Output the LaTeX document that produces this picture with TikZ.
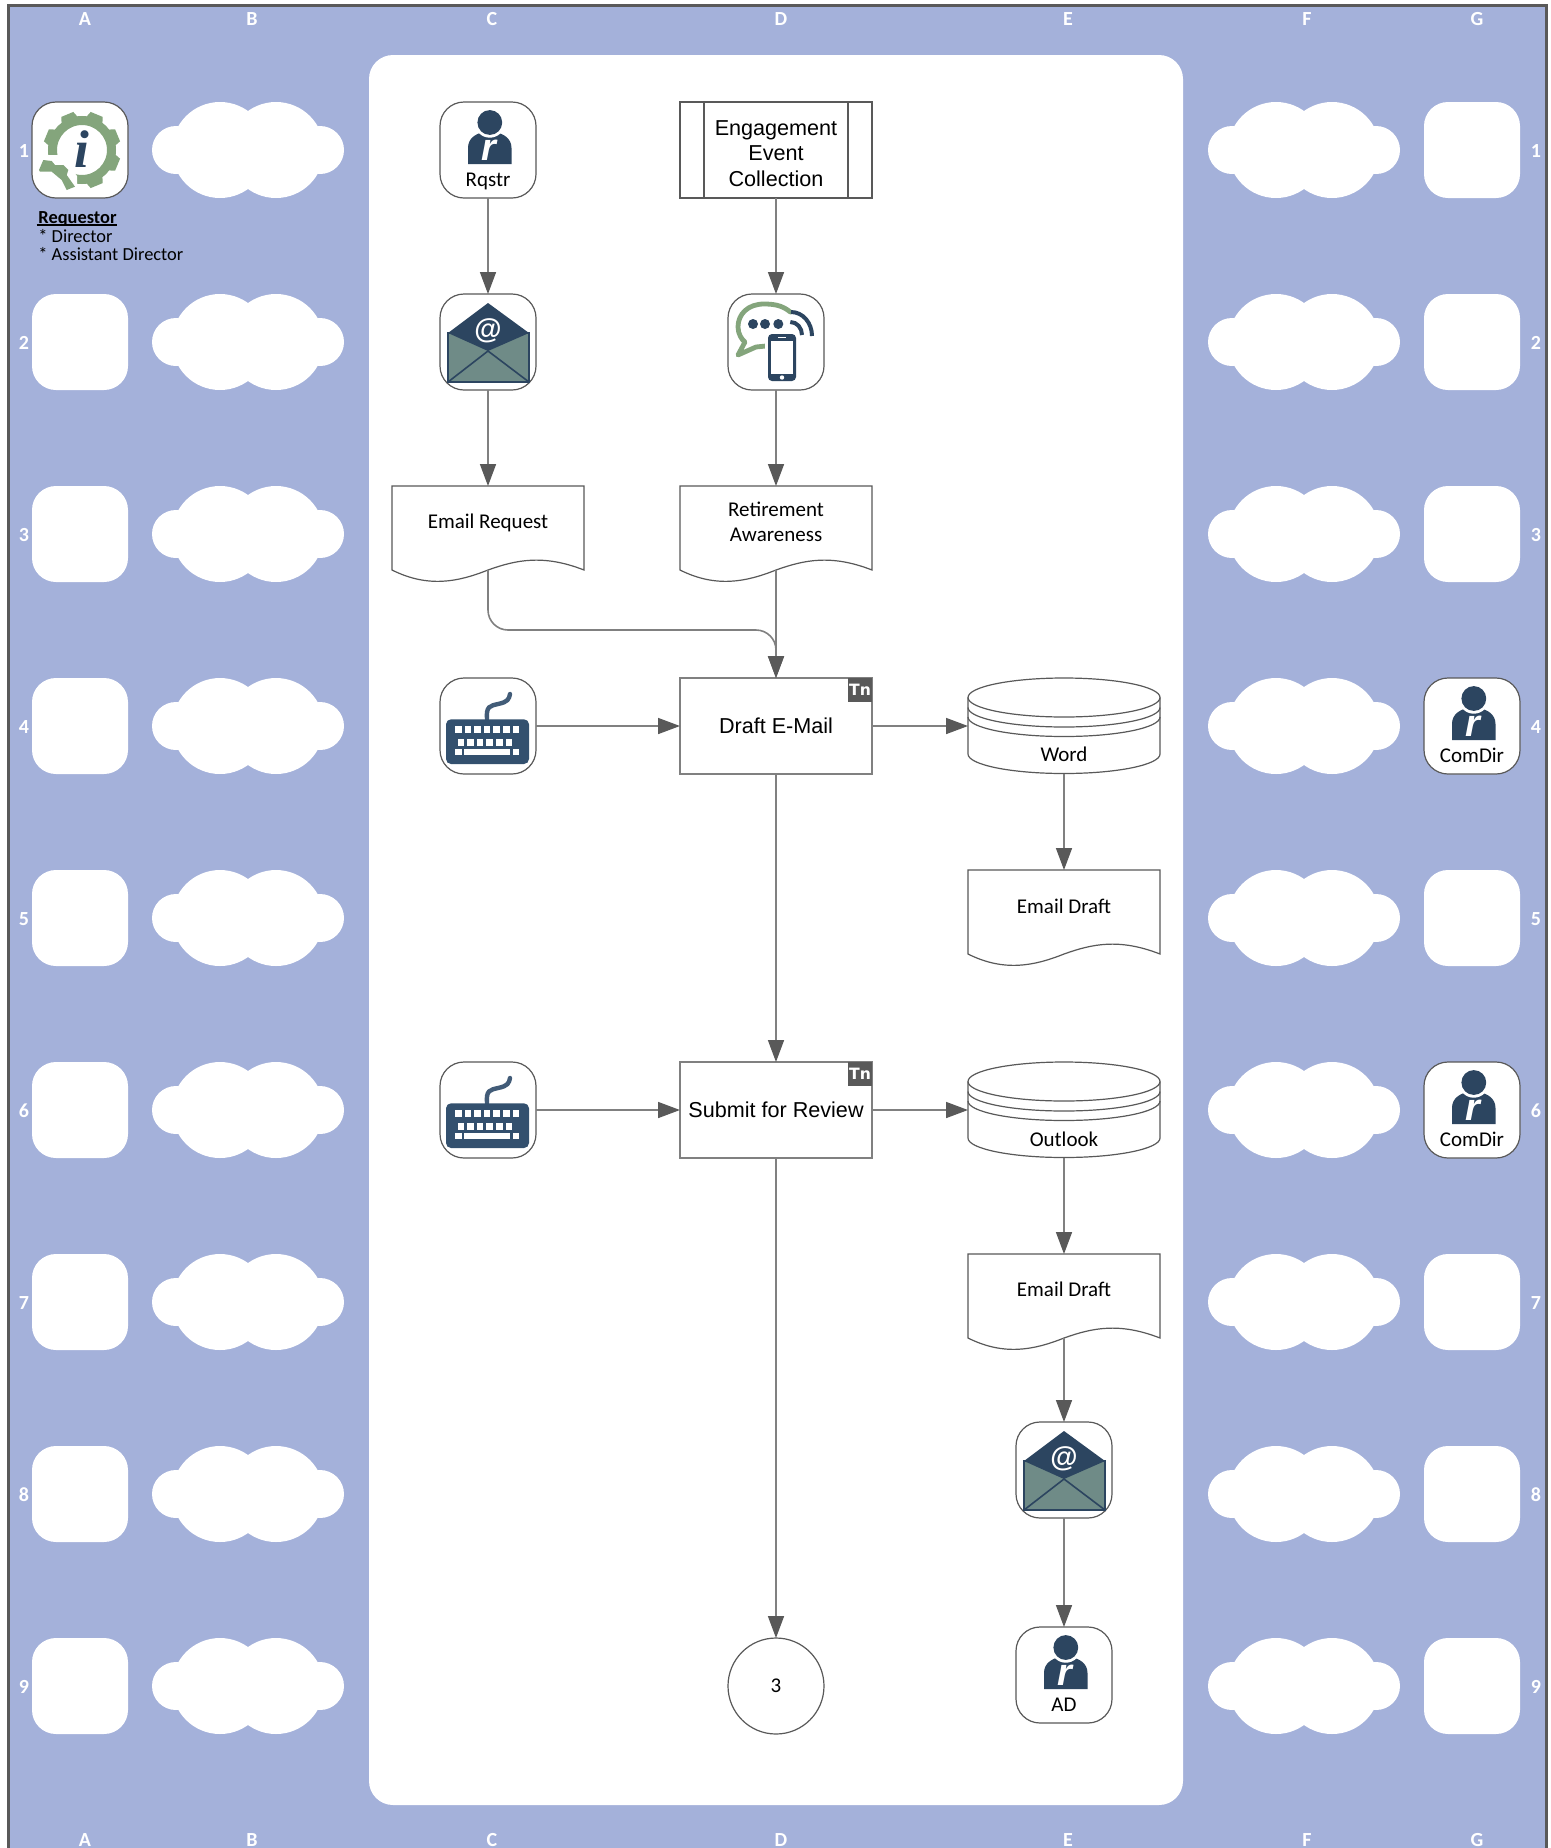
\documentclass[tikz,border=0pt]{standalone}
\usepackage{fontspec}
\setmainfont{Liberation Sans}
\newfontfamily\carl{Carlito}
\newfontfamily\serifbi{Liberation Serif}
\newfontfamily\dejav{DejaVu Sans}
\usetikzlibrary{arrows.meta}
\definecolor{bandblue}{HTML}{A4B1DA}
\definecolor{framegrey}{HTML}{595959}
\definecolor{linegrey}{HTML}{808080}
\definecolor{navyicon}{HTML}{2C4560}
\definecolor{envgreen}{HTML}{6F8B87}
\definecolor{geargreen}{HTML}{84A57C}
\definecolor{keyblue}{HTML}{33506E}
\definecolor{keyblueb}{HTML}{425C78}
\tikzset{
  plainbox/.style={fill=white,rounded corners=12pt,minimum width=48pt,minimum height=48pt,inner sep=0pt,outer sep=0pt},
  iconbox/.style={plainbox,draw=framegrey,line width=.6pt},
  procbox/.style={draw=linegrey,fill=white,line width=.8pt,minimum width=96pt,minimum height=48pt,inner sep=1pt,outer sep=0pt,align=center,
     font=\fontsize{10.8pt}{12.8pt}\selectfont},
  subbox/.style={procbox,draw=framegrey},
  proclabel/.style={inner sep=0pt,align=center,font=\fontsize{10.8pt}{12.8pt}\selectfont},
  tnbox/.style={fill=framegrey,text=white,minimum width=12pt,minimum height=12pt,inner sep=0pt,outer sep=0pt,font=\dejav\bfseries\fontsize{7.8pt}{8pt}\selectfont},
  flow/.style={draw=linegrey,line width=.8pt,-{Triangle[length=11pt,width=8pt,color=framegrey]}},
  shapeline/.style={draw=framegrey,fill=white,line width=.6pt},
  hollow/.style={minimum width=96pt,inner sep=0pt,outer sep=0pt},
  smalltext/.style={inner sep=0pt,align=center,font=\carl\fontsize{10.5pt}{12.6pt}\selectfont},
  gridlabel/.style={inner sep=0pt,text=white,font=\carl\bfseries\fontsize{10pt}{12pt}\selectfont},
  pics/personicon/.style={code={
    \fill[navyicon] (-20,14) -- (-20,-2) .. controls (-20,-12) and (-12,-16) .. (-5,-18) -- (8,-18) .. controls (15,-16) and (23.5,-12) .. (23.5,-2) -- (23.5,14) -- cycle;
    \fill[white] (1.8,-27.5) circle [radius=7.6pt];
    \fill[navyicon] (1.8,-27.5) circle [radius=6.2pt];
    \node[inner sep=0pt,text=white,font=\bfseries\itshape\fontsize{19pt}{19pt}\selectfont] (-letter) at (1,0) {r};
  }},
  pics/mailicon/.style={code={
    \fill[envgreen,draw=navyicon,line width=.6pt] (-40,-9) -- (41,-9) -- (41,40) -- (-40,40) -- cycle;
    \fill[navyicon] (-40,-9) -- (0,-39) -- (41,-9) -- (0,9) -- cycle;
    \draw[navyicon,line width=.8pt] (-40,40) -- (0,9) -- (41,40);
    \node[inner sep=0pt,text=white,font=\bfseries\fontsize{14pt}{14pt}\selectfont] (-at) at (0,-11) {@};
  }},
  pics/keyicon/.style={code={
    \draw[keyblueb,line width=2.2pt,line cap=round] (-1,-7) .. controls (-2,-20) and (2,-20) .. (10,-22) .. controls (20,-24) and (21,-27) .. (22,-32);
    \fill[keyblue,rounded corners=2.5pt] (-42,-6.7) rectangle (41,38);
    \foreach \kx in {-29.7,-20,-10.5,-1,8.7,18.3,28} \fill[white] (\kx-3.3,0) rectangle (\kx+3.3,6.6);
    \foreach \kx in {-27,-17.5,-8,1.7,11.3,21} \fill[white] (\kx-3.3,13) rectangle (\kx+3.3,19.6);
    \fill[white] (-33,22.7) rectangle (-26.4,29.3);
    \fill[white] (-24,22.7) rectangle (22,29.3);
    \fill[white] (24.7,22.7) rectangle (31.3,29.3);
  }},
  pics/chaticon/.style={code={
    \draw[geargreen,line width=2.4pt,line join=round,line cap=round] (14.3,-30) .. controls (6,-37) and (-3,-38) .. (-12,-38) .. controls (-28,-38) and (-38,-28) .. (-38,-15) .. controls (-38,-8) and (-34,-2) .. (-31,0) -- (-38,13) -- (-20,5) -- (-10,4);
    \foreach \dx in {-23,-11,2.3} \fill[navyicon] (\dx,-18) circle [radius=2.5pt];
    \draw[navyicon,line width=2pt] (15,-30) .. controls (27,-30) and (36,-19) .. (36,-6);
    \draw[navyicon,line width=2pt] (14.3,-20) .. controls (21,-20) and (26,-14) .. (26,-7);
    \fill[white] (-11,-11) rectangle (23,42);
    \fill[navyicon,rounded corners=2pt] (-8,-8) rectangle (20,39);
    \fill[white] (-5,-1.5) rectangle (17,32);
    \fill[white] (6,35.5) circle [radius=1.1pt];
    \draw[white,line width=.5pt] (2,-5) -- (10,-5);
  }},
  pics/gearicon/.style={code={
    \begin{scope}[shift={(2,0)}]
      \draw[geargreen,line width=4.5pt] (0,0) circle [radius=14.75pt];
      \foreach \ga in {22.5,67.5,...,337.5}
        \fill[geargreen,rotate=\ga] (30,-9.5) -- (38.5,-6.5) -- (38.5,6.5) -- (30,9.5) -- cycle;
    \end{scope}
    \fill[white] (-19,5) -- (-45,5) -- (-45,30) -- (-20,46) -- (-3,46) -- (-3,26) -- cycle;
    \fill[geargreen] (-41,20) -- (-36.7,10) -- (-28.3,11) -- (-25,15) -- (-16.7,15) -- (-11.7,20) -- (-13.3,25) -- (-5,36.7) -- (-13.3,40) -- (-18.3,30) -- (-28.3,21.7) -- (-40,21.7) -- cycle;
    \node[inner sep=0pt,text=navyicon,font=\serifbi\bfseries\itshape\fontsize{26.5pt}{27pt}\selectfont] (-letter) at (2,-1) {i};
  }}
}
% document outline: name, centre x, top y
\newcommand{\docnode}[3]{%
  \node[hollow,minimum height=42pt] (#1) at (#2,#3+42) {};
  \fill[white,draw=framegrey,line width=.6pt] (#2-96,#3) -- (#2+96,#3) -- (#2+96,#3+84)
    .. controls (#2+55,#3+68) and (#2+28,#3+74) .. (#2,#3+84)
    .. controls (#2-30,#3+96) and (#2-60,#3+102) .. (#2-96,#3+84) -- cycle;
}
% cylinder: name, centre x, top y, label y, label
\newcommand{\cylnode}[5]{%
  \node[hollow,minimum height=48pt] (#1) at (#2,#3+48) {};
  \path[shapeline] (#2-96,#3+19.5) arc[start angle=180,end angle=0,x radius=48pt,y radius=9.75pt]
     -- (#2+96,#3+76) arc[start angle=360,end angle=180,x radius=48pt,y radius=9.75pt] -- cycle;
  \draw[framegrey,line width=.6pt] (#2-96,#3+19.5) arc[start angle=180,end angle=360,x radius=48pt,y radius=9.75pt];
  \draw[framegrey,line width=.6pt] (#2-96,#3+29.5) arc[start angle=180,end angle=360,x radius=48pt,y radius=9.75pt];
  \draw[framegrey,line width=.6pt] (#2-96,#3+39) arc[start angle=180,end angle=360,x radius=48pt,y radius=9.75pt];
  \node[smalltext] (#1label) at (#2,#4) {#5};
}
\begin{document}
\begin{tikzpicture}[x=0.5pt,y=-0.5pt]
\useasboundingbox (0,0) rectangle (1551,1848);
\clip (0,0) rectangle (1551,1848);
\fill[white] (0,0) rectangle (1551,1848);
\draw[fill=bandblue,draw=framegrey,line width=1.5pt] (8,5) rectangle (1546,1880);
\fill[white,rounded corners=12pt] (369,55) rectangle (1183,1805);

% band grid
\foreach \rw [evaluate=\rw as \cy using {150+192*(\rw-1)}] in {1,...,9} {
  \node[gridlabel] (rowl\rw) at (24,\cy+1) {\rw};
  \node[gridlabel] (rowr\rw) at (1536,\cy+1) {\rw};
  \node[plainbox] (boxa\rw) at (80,\cy) {};
  \node[plainbox] (boxg\rw) at (1472,\cy) {};
  \foreach \ox in {0,1056} {
    \fill[white] (\ox+176,\cy) circle [radius=12pt];
    \fill[white] (\ox+320,\cy) circle [radius=12pt];
    \fill[white] (\ox+220,\cy) circle [radius=24pt];
    \fill[white] (\ox+276,\cy) circle [radius=24pt];
  }
}
\foreach \lt/\lx in {A/85,B/252,C/492,D/781,E/1068,F/1307,G/1477} {
  \node[gridlabel] (top\lt) at (\lx,19) {\lt};
  \node[gridlabel] (bot\lt) at (\lx,1840) {\lt};
}

% legend
\node[iconbox] (gearbox) at (80,150) {};
\pic (gear) at (80,150) {gearicon};
\node[inner sep=0pt,anchor=west,align=left,font=\carl\fontsize{9.2pt}{9.25pt}\selectfont] (legend) at (38,236.5)
  {{\bfseries Requestor\llap{\rule[-0.8pt]{40pt}{0.7pt}}}\\* Director\\* Assistant Director};

% column C
\node[iconbox] (rqstr) at (488,150) {};
\pic (rqstrp) at (488,150) {personicon};
\node[smalltext] (rqstrl) at (488,181) {Rqstr};
\node[iconbox] (mailc) at (488,342) {};
\pic (mailcp) at (488,342) {mailicon};
\docnode{er}{488}{486}
\node[smalltext] (erl) at (488,523) {Email Request};
\node[iconbox] (keya) at (488,726) {};
\pic (keyap) at (488,726) {keyicon};
\node[iconbox] (keyb) at (488,1110) {};
\pic (keybp) at (488,1110) {keyicon};

% column D
\node[subbox] (eng) at (776,150) {};
\node[proclabel] (engl) at (776,153.5) {Engagement\\Event\\Collection};
\draw[framegrey,line width=.8pt] ([xshift=12pt]eng.north west) -- ([xshift=12pt]eng.south west);
\draw[framegrey,line width=.8pt] ([xshift=-12pt]eng.north east) -- ([xshift=-12pt]eng.south east);
\node[iconbox] (chat) at (776,342) {};
\pic (chatp) at (776,342) {chaticon};
\docnode{ra}{776}{486}
\node[smalltext] (ral) at (776,522) {Retirement\\Awareness};
\node[procbox] (draft) at (776,726) {Draft E-Mail};
\node[tnbox] (tna) at (860,690) {Tn};
\node[procbox] (submit) at (776,1110) {Submit for Review};
\node[tnbox] (tnb) at (860,1074) {Tn};
\node[draw=framegrey,fill=white,line width=.6pt,circle,minimum size=48pt,inner sep=0pt,outer sep=0pt,font=\carl\fontsize{10.5pt}{12.6pt}\selectfont] (off) at (776,1686) {3};

% column E
\cylnode{word}{1064}{678}{754}{Word}
\docnode{eda}{1064}{870}
\node[smalltext] (edal) at (1064,906) {Email Draft};
\cylnode{outlook}{1064}{1062}{1139}{Outlook}
\docnode{edb}{1064}{1254}
\node[smalltext] (edbl) at (1064,1289.5) {Email Draft};
\node[iconbox] (maile) at (1064,1470) {};
\pic (mailep) at (1064,1470) {mailicon};
\node[iconbox] (ad) at (1064,1675) {};
\pic (adp) at (1064,1675) {personicon};
\node[smalltext] (adl) at (1064,1705) {AD};

% column G
\node[iconbox] (cda) at (1472,726) {};
\pic (cdap) at (1472,726) {personicon};
\node[smalltext] (cdal) at (1472,755) {ComDir};
\node[iconbox] (cdb) at (1472,1110) {};
\pic (cdbp) at (1472,1110) {personicon};
\node[smalltext] (cdbl) at (1472,1139) {ComDir};

% connectors
\draw[flow] (rqstr) -- (mailc);
\draw[flow] (mailc) -- (er);
\draw[flow] (eng) -- (chat);
\draw[flow] (chat) -- (ra);
\coordinate (bendr) at (776,630);
\draw[flow,rounded corners=10pt] (er.south) |- (bendr) -- (draft.north);
\draw[flow] (ra.south) -- (draft.north);
\draw[flow] (keya) -- (draft);
\draw[flow] (draft) -- (word);
\draw[flow] (word.south) -- (eda.north);
\draw[flow] (draft) -- (submit);
\draw[flow] (keyb) -- (submit);
\draw[flow] (submit) -- (outlook);
\draw[flow] (outlook.south) -- (edb.north);
\draw[flow] (edb.south) -- (maile.north);
\draw[flow] (maile) -- (ad);
\draw[flow] (submit) -- (off);
\end{tikzpicture}
\end{document}
